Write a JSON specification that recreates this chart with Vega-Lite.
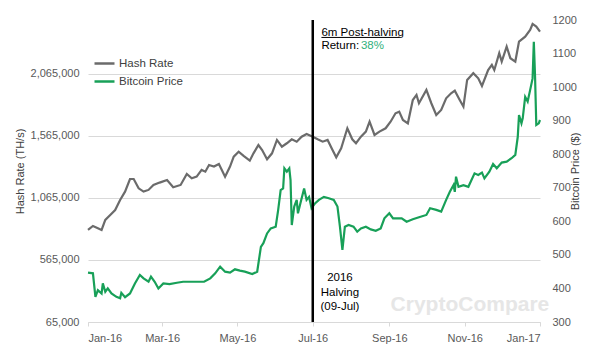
{
  "$schema": "https://vega.github.io/schema/vega-lite/v6.json",
  "width": 452,
  "height": 302,
  "autosize": {"type": "none"},
  "padding": {"left": 88, "top": 20, "right": 60, "bottom": 33},
  "background": "white",
  "config": {
    "font": "Liberation Sans",
    "view": {"stroke": null},
    "axis": {"labelFont": "Liberation Sans", "titleFont": "Liberation Sans", "labelColor": "#595959", "titleColor": "#404040", "labelFontSize": 11, "titleFontSize": 11, "titleFontWeight": "normal", "labelOverlap": false}
  },
  "datasets": {
    "hash": [
      {"date": "2016-01-09", "hashrate": 807000}, {"date": "2016-01-13", "hashrate": 839000}, {"date": "2016-01-17", "hashrate": 821000},
      {"date": "2016-01-20", "hashrate": 807000}, {"date": "2016-01-23", "hashrate": 888000}, {"date": "2016-01-27", "hashrate": 928000},
      {"date": "2016-01-31", "hashrate": 968000}, {"date": "2016-02-04", "hashrate": 1049000}, {"date": "2016-02-08", "hashrate": 1116000},
      {"date": "2016-02-12", "hashrate": 1218000}, {"date": "2016-02-15", "hashrate": 1218000}, {"date": "2016-02-19", "hashrate": 1143000},
      {"date": "2016-02-23", "hashrate": 1116000}, {"date": "2016-02-27", "hashrate": 1130000}, {"date": "2016-03-02", "hashrate": 1170000},
      {"date": "2016-03-07", "hashrate": 1189000}, {"date": "2016-03-13", "hashrate": 1210000}, {"date": "2016-03-18", "hashrate": 1151000},
      {"date": "2016-03-24", "hashrate": 1170000}, {"date": "2016-03-29", "hashrate": 1259000}, {"date": "2016-04-02", "hashrate": 1224000},
      {"date": "2016-04-06", "hashrate": 1237000}, {"date": "2016-04-10", "hashrate": 1291000}, {"date": "2016-04-13", "hashrate": 1277000},
      {"date": "2016-04-16", "hashrate": 1331000}, {"date": "2016-04-20", "hashrate": 1318000}, {"date": "2016-04-24", "hashrate": 1339000},
      {"date": "2016-04-29", "hashrate": 1237000}, {"date": "2016-05-03", "hashrate": 1318000}, {"date": "2016-05-06", "hashrate": 1398000},
      {"date": "2016-05-10", "hashrate": 1438000}, {"date": "2016-05-14", "hashrate": 1405000}, {"date": "2016-05-19", "hashrate": 1366000},
      {"date": "2016-05-22", "hashrate": 1425000}, {"date": "2016-05-26", "hashrate": 1492000}, {"date": "2016-05-29", "hashrate": 1452000},
      {"date": "2016-06-02", "hashrate": 1377000}, {"date": "2016-06-06", "hashrate": 1425000}, {"date": "2016-06-10", "hashrate": 1533000},
      {"date": "2016-06-14", "hashrate": 1479000}, {"date": "2016-06-18", "hashrate": 1506000}, {"date": "2016-06-22", "hashrate": 1538000},
      {"date": "2016-06-26", "hashrate": 1519000}, {"date": "2016-06-30", "hashrate": 1559000}, {"date": "2016-07-04", "hashrate": 1581000},
      {"date": "2016-07-09", "hashrate": 1559000}, {"date": "2016-07-13", "hashrate": 1538000}, {"date": "2016-07-17", "hashrate": 1519000},
      {"date": "2016-07-21", "hashrate": 1533000}, {"date": "2016-07-25", "hashrate": 1452000}, {"date": "2016-07-28", "hashrate": 1393000},
      {"date": "2016-08-01", "hashrate": 1466000}, {"date": "2016-08-06", "hashrate": 1627000}, {"date": "2016-08-10", "hashrate": 1538000},
      {"date": "2016-08-13", "hashrate": 1506000}, {"date": "2016-08-17", "hashrate": 1559000}, {"date": "2016-08-21", "hashrate": 1600000},
      {"date": "2016-08-24", "hashrate": 1680000}, {"date": "2016-08-28", "hashrate": 1573000}, {"date": "2016-09-01", "hashrate": 1600000},
      {"date": "2016-09-06", "hashrate": 1627000}, {"date": "2016-09-10", "hashrate": 1680000}, {"date": "2016-09-14", "hashrate": 1748000},
      {"date": "2016-09-17", "hashrate": 1761000}, {"date": "2016-09-20", "hashrate": 1694000}, {"date": "2016-09-24", "hashrate": 1667000},
      {"date": "2016-09-28", "hashrate": 1855000}, {"date": "2016-10-01", "hashrate": 1896000}, {"date": "2016-10-03", "hashrate": 1829000},
      {"date": "2016-10-09", "hashrate": 1936000}, {"date": "2016-10-13", "hashrate": 1829000}, {"date": "2016-10-17", "hashrate": 1734000},
      {"date": "2016-10-21", "hashrate": 1775000}, {"date": "2016-10-25", "hashrate": 1869000}, {"date": "2016-10-29", "hashrate": 1909000},
      {"date": "2016-11-01", "hashrate": 1930000}, {"date": "2016-11-05", "hashrate": 1855000}, {"date": "2016-11-08", "hashrate": 1801000},
      {"date": "2016-11-11", "hashrate": 2017000}, {"date": "2016-11-16", "hashrate": 2071000}, {"date": "2016-11-20", "hashrate": 2030000},
      {"date": "2016-11-23", "hashrate": 1968000}, {"date": "2016-11-28", "hashrate": 2097000}, {"date": "2016-12-01", "hashrate": 2138000},
      {"date": "2016-12-03", "hashrate": 2097000}, {"date": "2016-12-07", "hashrate": 2232000}, {"date": "2016-12-09", "hashrate": 2165000},
      {"date": "2016-12-13", "hashrate": 2286000}, {"date": "2016-12-16", "hashrate": 2192000}, {"date": "2016-12-20", "hashrate": 2165000},
      {"date": "2016-12-23", "hashrate": 2326000}, {"date": "2016-12-28", "hashrate": 2366000}, {"date": "2017-01-01", "hashrate": 2420000},
      {"date": "2017-01-03", "hashrate": 2468000}, {"date": "2017-01-06", "hashrate": 2447000}, {"date": "2017-01-09", "hashrate": 2406000}
    ],
    "price": [
      {"date": "2016-01-09", "price": 447}, {"date": "2016-01-13", "price": 445}, {"date": "2016-01-15", "price": 375},
      {"date": "2016-01-17", "price": 395}, {"date": "2016-01-20", "price": 385}, {"date": "2016-01-21", "price": 415},
      {"date": "2016-01-23", "price": 390}, {"date": "2016-01-25", "price": 400}, {"date": "2016-01-28", "price": 385},
      {"date": "2016-02-01", "price": 375}, {"date": "2016-02-04", "price": 371}, {"date": "2016-02-05", "price": 387},
      {"date": "2016-02-08", "price": 374}, {"date": "2016-02-12", "price": 385}, {"date": "2016-02-16", "price": 415},
      {"date": "2016-02-20", "price": 440}, {"date": "2016-02-23", "price": 430}, {"date": "2016-02-27", "price": 420},
      {"date": "2016-02-29", "price": 435}, {"date": "2016-03-03", "price": 420}, {"date": "2016-03-06", "price": 400},
      {"date": "2016-03-10", "price": 415}, {"date": "2016-03-15", "price": 413}, {"date": "2016-03-21", "price": 417},
      {"date": "2016-03-26", "price": 420}, {"date": "2016-04-01", "price": 420}, {"date": "2016-04-06", "price": 420},
      {"date": "2016-04-12", "price": 420}, {"date": "2016-04-17", "price": 430}, {"date": "2016-04-21", "price": 445},
      {"date": "2016-04-25", "price": 465}, {"date": "2016-04-29", "price": 450}, {"date": "2016-05-03", "price": 447},
      {"date": "2016-05-07", "price": 457}, {"date": "2016-05-11", "price": 453}, {"date": "2016-05-15", "price": 450},
      {"date": "2016-05-21", "price": 443}, {"date": "2016-05-25", "price": 450}, {"date": "2016-05-28", "price": 524},
      {"date": "2016-05-30", "price": 535}, {"date": "2016-06-02", "price": 564}, {"date": "2016-06-05", "price": 579},
      {"date": "2016-06-09", "price": 584}, {"date": "2016-06-11", "price": 634}, {"date": "2016-06-13", "price": 693},
      {"date": "2016-06-15", "price": 698}, {"date": "2016-06-16", "price": 758}, {"date": "2016-06-18", "price": 748},
      {"date": "2016-06-20", "price": 758}, {"date": "2016-06-21", "price": 723}, {"date": "2016-06-22", "price": 589},
      {"date": "2016-06-24", "price": 644}, {"date": "2016-06-26", "price": 664}, {"date": "2016-06-27", "price": 624},
      {"date": "2016-06-29", "price": 654}, {"date": "2016-07-02", "price": 698}, {"date": "2016-07-04", "price": 664},
      {"date": "2016-07-06", "price": 673}, {"date": "2016-07-08", "price": 639}, {"date": "2016-07-11", "price": 654},
      {"date": "2016-07-14", "price": 664}, {"date": "2016-07-18", "price": 673}, {"date": "2016-07-22", "price": 669},
      {"date": "2016-07-26", "price": 664}, {"date": "2016-07-29", "price": 644}, {"date": "2016-07-31", "price": 584},
      {"date": "2016-08-02", "price": 515}, {"date": "2016-08-04", "price": 584}, {"date": "2016-08-07", "price": 589},
      {"date": "2016-08-11", "price": 584}, {"date": "2016-08-14", "price": 569}, {"date": "2016-08-17", "price": 579},
      {"date": "2016-08-21", "price": 584}, {"date": "2016-08-25", "price": 576}, {"date": "2016-08-29", "price": 572},
      {"date": "2016-09-02", "price": 579}, {"date": "2016-09-05", "price": 609}, {"date": "2016-09-09", "price": 624},
      {"date": "2016-09-12", "price": 609}, {"date": "2016-09-17", "price": 609}, {"date": "2016-09-19", "price": 609},
      {"date": "2016-09-23", "price": 599}, {"date": "2016-09-28", "price": 606}, {"date": "2016-10-03", "price": 612},
      {"date": "2016-10-09", "price": 619}, {"date": "2016-10-12", "price": 639}, {"date": "2016-10-17", "price": 634},
      {"date": "2016-10-21", "price": 629}, {"date": "2016-10-25", "price": 664}, {"date": "2016-10-28", "price": 688},
      {"date": "2016-10-31", "price": 708}, {"date": "2016-11-01", "price": 688}, {"date": "2016-11-02", "price": 733},
      {"date": "2016-11-04", "price": 703}, {"date": "2016-11-08", "price": 708}, {"date": "2016-11-12", "price": 703},
      {"date": "2016-11-17", "price": 743}, {"date": "2016-11-20", "price": 738}, {"date": "2016-11-23", "price": 745},
      {"date": "2016-11-25", "price": 728}, {"date": "2016-11-29", "price": 748}, {"date": "2016-12-02", "price": 771},
      {"date": "2016-12-05", "price": 758}, {"date": "2016-12-09", "price": 775}, {"date": "2016-12-13", "price": 778},
      {"date": "2016-12-17", "price": 788}, {"date": "2016-12-20", "price": 798}, {"date": "2016-12-22", "price": 852},
      {"date": "2016-12-23", "price": 917}, {"date": "2016-12-25", "price": 892}, {"date": "2016-12-26", "price": 907},
      {"date": "2016-12-28", "price": 971}, {"date": "2016-12-30", "price": 957}, {"date": "2017-01-01", "price": 991},
      {"date": "2017-01-03", "price": 1026}, {"date": "2017-01-04", "price": 1135}, {"date": "2017-01-05", "price": 1031},
      {"date": "2017-01-06", "price": 887}, {"date": "2017-01-08", "price": 892}, {"date": "2017-01-09", "price": 902}
    ]
  },
  "layer": [
    {
      "data": {"name": "hash"},
      "mark": {"type": "line", "strokeWidth": 2.2},
      "encoding": {
        "x": {
          "field": "date", "type": "temporal",
          "scale": {"type": "utc", "domain": [{"year": 2016, "month": 1, "date": 9, "utc": true}, {"year": 2017, "month": 1, "date": 9, "utc": true}]},
          "axis": {
            "title": null, "format": "%b-%y", "grid": false,
            "values": [
              {"year": 2016, "month": 1, "date": 9, "utc": true}, {"year": 2016, "month": 3, "date": 9, "utc": true},
              {"year": 2016, "month": 5, "date": 9, "utc": true}, {"year": 2016, "month": 7, "date": 9, "utc": true},
              {"year": 2016, "month": 9, "date": 9, "utc": true}, {"year": 2016, "month": 11, "date": 9, "utc": true},
              {"year": 2017, "month": 1, "date": 9, "utc": true}
            ],
            "domainColor": "#d9d9d9", "tickColor": "#d9d9d9", "tickSize": 4, "labelPadding": 6, "labelFontSize": 11
          }
        },
        "y": {
          "field": "hashrate", "type": "quantitative",
          "scale": {"domain": [65000, 2500000], "nice": false, "zero": false},
          "axis": {
            "orient": "left", "title": "Hash Rate (TH/s)", "values": [65000, 565000, 1065000, 1565000, 2065000],
            "format": ",d", "grid": true, "gridColor": "#d9d9d9", "domain": false, "ticks": false,
            "labelPadding": 9, "titlePadding": 5
          }
        },
        "color": {
          "datum": "Hash Rate",
          "scale": {"domain": ["Hash Rate", "Bitcoin Price"], "range": ["#6b6b6b", "#18a058"]},
          "legend": {
            "orient": "none", "legendX": 5, "legendY": 32, "title": null, "symbolType": "stroke",
            "symbolSize": 400, "symbolStrokeWidth": 2.5, "labelFontSize": 11.5, "labelColor": "#404040",
            "rowPadding": 1, "labelOffset": 3, "direction": "vertical", "labelFont": "Liberation Sans"
          }
        }
      }
    },
    {
      "layer": [
        {
          "data": {"name": "price"},
          "mark": {"type": "line", "strokeWidth": 2.2},
          "encoding": {
            "x": {"field": "date", "type": "temporal"},
            "y": {
              "field": "price", "type": "quantitative",
              "scale": {"domain": [300, 1200], "nice": false, "zero": false},
              "axis": {
                "orient": "right", "title": "Bitcoin Price ($)", "values": [300, 400, 500, 600, 700, 800, 900, 1000, 1100, 1200],
                "format": "d", "labelOverlap": false, "tickCount": 10,
                "grid": false, "domain": false, "ticks": false, "labelPadding": 12, "titlePadding": 4, "titleAngle": 270
              }
            },
            "color": {"datum": "Bitcoin Price"}
          }
        },
        {
          "data": {"values": [{"date": "2016-09-10", "price": 333, "label": "CryptoCompare"}]},
          "mark": {"type": "text", "align": "left", "baseline": "alphabetic", "fontSize": 21, "fontWeight": "bold", "color": "#e6e6e6"},
          "encoding": {
            "x": {"field": "date", "type": "temporal"},
            "y": {"field": "price", "type": "quantitative"},
            "text": {"field": "label"}
          }
        },
        {
          "data": {"values": [{"date": "2016-07-09"}]},
          "mark": {"type": "rule", "color": "black", "strokeWidth": 2.5},
          "encoding": {"x": {"field": "date", "type": "temporal"}}
        },
        {
          "data": {"values": [{"date": "2016-07-16", "price": 1152, "label": "6m Post-halving"}, {"date": "2016-07-16", "price": 1113, "label": "Return:"}]},
          "mark": {"type": "text", "align": "left", "baseline": "alphabetic", "fontSize": 11.5, "color": "#000000"},
          "encoding": {
            "x": {"field": "date", "type": "temporal"},
            "y": {"field": "price", "type": "quantitative"},
            "text": {"field": "label"}
          }
        },
        {
          "data": {"values": [{"date": "2016-08-17", "price": 1113, "label": "38%"}]},
          "mark": {"type": "text", "align": "left", "baseline": "alphabetic", "fontSize": 11.5, "color": "#2fb07c"},
          "encoding": {
            "x": {"field": "date", "type": "temporal"},
            "y": {"field": "price", "type": "quantitative"},
            "text": {"field": "label"}
          }
        },
        {
          "data": {"values": [{"date": "2016-07-16", "date2": "2016-09-17", "price": 1148}]},
          "mark": {"type": "rule", "color": "#000000", "strokeWidth": 1},
          "encoding": {
            "x": {"field": "date", "type": "temporal"},
            "x2": {"field": "date2"},
            "y": {"field": "price", "type": "quantitative"}
          }
        },
        {
          "data": {"values": [{"date": "2016-07-31", "price": 422, "label": "2016\nHalving\n(09-Jul)"}]},
          "mark": {"type": "text", "align": "center", "baseline": "alphabetic", "fontSize": 11.5, "color": "#000000", "lineBreak": "\n", "lineHeight": 14.5},
          "encoding": {
            "x": {"field": "date", "type": "temporal"},
            "y": {"field": "price", "type": "quantitative"},
            "text": {"field": "label"}
          }
        }
      ]
    }
  ],
  "resolve": {"scale": {"y": "independent"}}
}
